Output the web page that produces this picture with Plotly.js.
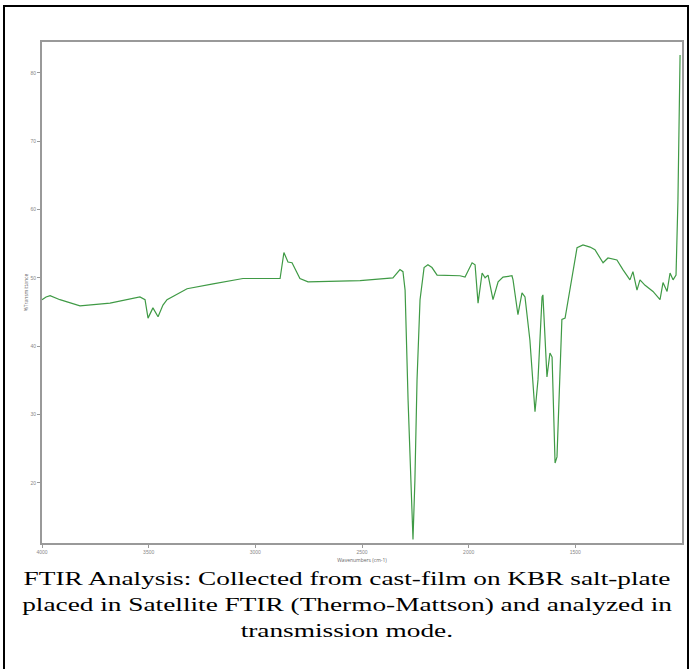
<!DOCTYPE html>
<html>
<head>
<meta charset="utf-8">
<script src="https://cdn.plot.ly/plotly-3.0.1.min.js"></script>
<style>
  html, body { margin:0; padding:0; background:#fff; }
  #wrap { position:relative; width:694px; height:669px; overflow:hidden; }
  #frame { position:absolute; left:3px; top:5px; width:686px; height:700px; border:2px solid #000; box-sizing:border-box; pointer-events:none; }
  #chart { position:absolute; left:0; top:0; width:694px; height:669px; }
  #caption { position:absolute; left:0; top:566px; width:694px; text-align:center;
    font-family:"Liberation Serif","Times New Roman",serif; font-size:19.5px; line-height:26px; color:#000; }
  #caption span { display:inline-block; transform:scaleX(1.4); transform-origin:center; white-space:nowrap; }
</style>
</head>
<body>
<div id="wrap">
  <div id="chart"></div>
  <div id="caption">
    <span>FTIR Analysis: Collected from cast-film on KBR salt-plate</span><br>
    <span>placed in Satellite FTIR (Thermo-Mattson) and analyzed in</span><br>
    <span>transmission mode.</span>
  </div>
  <div id="frame"></div>
</div>
<script>
// Wavenumbers (cm-1) and %Transmittance
const wavenumbers = [4000,3981,3962,3916,3822,3681,3541,3517,3503,3480,3456,3433,3414,3320,3198,3058,
  2978,2884,2866,2847,2828,2791,2753,2509,2355,2322,2308,2298,2284,2270,2261,2252,2242,2228,2209,2191,
  2172,2148,2041,2017,1984,1970,1956,1937,1923,1909,1886,1862,1839,1797,1792,1769,1750,1736,1713,1689,
  1675,1656,1652,1633,1619,1609,1595,1586,1563,1548,1525,1492,1464,1431,1408,1370,1347,1305,1277,1244,
  1230,1211,1197,1173,1136,1103,1089,1070,1056,1042,1028,1019,1009];
const transmittance = [46.8,47.2,47.4,46.8,45.9,46.3,47.2,46.8,44.1,45.6,44.3,46.0,46.8,48.4,49.1,49.9,
  49.9,49.9,53.7,52.3,52.2,49.9,49.4,49.6,50.0,51.2,50.9,48.2,32.1,17.5,11.7,20.4,35.1,46.8,51.5,51.9,
  51.5,50.4,50.3,50.1,52.2,51.9,46.3,50.7,50.0,50.4,46.8,49.4,50.1,50.3,49.7,44.6,47.8,47.2,40.9,30.4,
  35.1,47.2,47.5,35.5,39.0,38.4,22.9,23.8,43.9,44.1,48.2,54.4,54.8,54.5,54.1,52.2,52.9,52.6,51.2,49.7,
  50.9,48.2,49.7,48.9,48.0,46.8,49.3,48.0,50.7,49.7,50.4,61.4,82.6];
const xTickVals = [4000,3500,3000,2500,2000,1500];
const yTickVals = [20,30,40,50,60,70,80];

const trace = {
  x: wavenumbers, y: transmittance, type:'scatter', mode:'lines',
  line:{color:'#3f9a45', width:1.2}, hoverinfo:'skip'
};
const axisCommon = {
  showgrid:false, zeroline:false, showline:true, linecolor:'#999', linewidth:2, mirror:true,
  ticks:'outside', ticklen:3, tickcolor:'#999', tickwidth:1,
  tickfont:{size:5, color:'#888', family:'Arial, sans-serif'}
};
const layout = {
  width:694, height:669,
  margin:{l:42, r:12, t:42, b:126},
  paper_bgcolor:'rgba(0,0,0,0)', plot_bgcolor:'#fff',
  showlegend:false,
  xaxis: Object.assign({}, axisCommon, {
    range:[4000, 1000], tickvals:xTickVals, ticktext:xTickVals.map(String),
    title:{text:'Wavenumbers (cm-1)', font:{size:5, color:'#666'}, standoff:4}
  }),
  yaxis: Object.assign({}, axisCommon, {
    range:[11.2, 84.5], tickvals:yTickVals, ticktext:yTickVals.map(String),
    title:{text:'%Transmittance', font:{size:5, color:'#666'}, standoff:2}
  })
};
Plotly.newPlot('chart', [trace], layout, {displayModeBar:false, staticPlot:true});
</script>
</body>
</html>
